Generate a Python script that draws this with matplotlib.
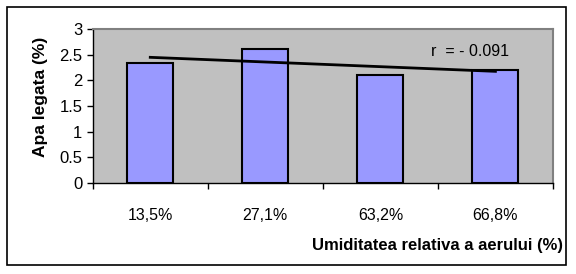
import numpy as np
import matplotlib.pyplot as plt
from matplotlib.patches import Rectangle

plt.rcParams['font.family'] = ['Liberation Sans', 'DejaVu Sans']

categories = ["13,5%", "27,1%", "63,2%", "66,8%"]
apa_legata = [2.33, 2.62, 2.1, 2.2]
r_label = "r  = - 0.091"

fig = plt.figure(figsize=(5.76, 2.74), dpi=100)
ax = fig.add_axes([0.161, 0.332, 0.799, 0.562])
ax.set_facecolor("#C0C0C0")

x = np.arange(len(categories))
ax.bar(x, apa_legata, width=0.4, color="#9999FF", edgecolor="black", linewidth=1.5, zorder=2)

# linear trend line
k, b = np.polyfit(x, apa_legata, 1)
ax.plot(x, k * x + b, color="black", linewidth=2, zorder=3)
ax.text(2.78, 2.57, r_label, fontsize=11.5, ha="center", va="center")

ax.set_xlim(-0.5, len(categories) - 0.5)
ax.set_ylim(0, 3)
ax.set_yticks([0, 0.5, 1, 1.5, 2, 2.5, 3])
ax.set_yticklabels(["0", "0.5", "1", "1.5", "2", "2.5", "3"], fontsize=12)
ax.set_xticks(np.arange(-0.5, len(categories), 1))
ax.set_xticklabels([])
ax.set_xticks(x, minor=True)
ax.set_xticklabels(categories, minor=True, fontsize=11.5)
ax.tick_params(axis="x", which="minor", length=0, pad=18)
ax.tick_params(axis="both", which="major", direction="out", length=4, width=1)

for s in ["top", "right"]:
    ax.spines[s].set_color("#808080")
    ax.spines[s].set_linewidth(1.5)
ax.spines["left"].set_linewidth(1)
ax.spines["bottom"].set_linewidth(1)

fig.text(0.07, 0.645, "Apa legata (%)", rotation=90, fontsize=12.5, fontweight="bold",
         ha="center", va="center")
fig.text(0.978, 0.105, "Umiditatea relativa a aerului (%)", fontsize=12, fontweight="bold",
         ha="right", va="center")

fig.patches.append(Rectangle((0.012, 0.033), 0.970, 0.940, transform=fig.transFigure,
                             fill=False, edgecolor="black", linewidth=1.2))

fig.savefig("out.png", dpi=100)
